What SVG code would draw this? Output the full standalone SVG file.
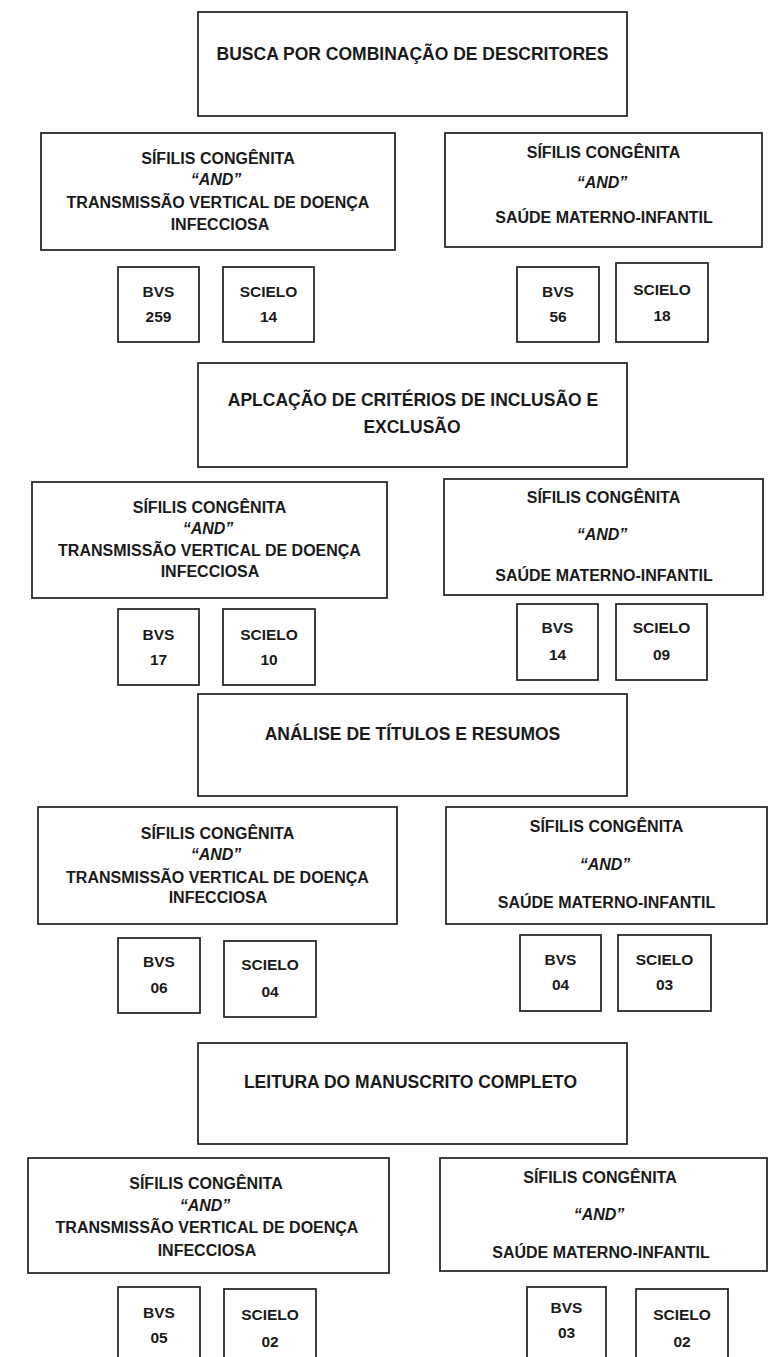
<svg xmlns="http://www.w3.org/2000/svg" width="780" height="1357" viewBox="0 0 780 1357">
<style>
rect{fill:#fff;stroke:#1e1e1e;stroke-width:1.7}
text{font-family:"Liberation Sans",Arial,sans-serif;font-weight:bold;fill:#1a1a1a;text-anchor:middle}
.h{font-size:17.5px}
.s{font-size:16px}
.i{font-style:italic}
.n{font-size:15.5px}
</style>
<rect x="0" y="0" width="780" height="1357" style="fill:#fff;stroke:none"/>
<g id="connectors"/>

<!-- Row 1 -->
<g id="h1"><rect x="198" y="12" width="429" height="104"/>
<text class="h" x="412.5" y="60">BUSCA POR COMBINAÇÃO DE DESCRITORES</text></g>
<g id="r1l"><rect x="41" y="133" width="354" height="117"/>
<text class="s" x="218" y="164">SÍFILIS CONGÊNITA</text>
<text class="s i" x="216" y="185">“AND”</text>
<text class="s" x="218" y="207.5">TRANSMISSÃO VERTICAL DE DOENÇA</text>
<text class="s" x="220" y="229.5">INFECCIOSA</text></g>
<g id="r1r"><rect x="445" y="133" width="317" height="114"/>
<text class="s" x="603.5" y="158">SÍFILIS CONGÊNITA</text>
<text class="s i" x="602" y="188">“AND”</text>
<text class="s" x="604" y="223">SAÚDE MATERNO-INFANTIL</text></g>
<g id="r1l_bvs"><rect x="118" y="267" width="81" height="75"/>
<text class="n" x="158.5" y="297">BVS</text><text class="n" x="158.5" y="322">259</text></g>
<g id="r1l_sci"><rect x="223" y="267" width="91" height="75"/>
<text class="n" x="268.5" y="297">SCIELO</text><text class="n" x="268.5" y="322">14</text></g>
<g id="r1r_bvs"><rect x="517" y="267" width="82" height="75"/>
<text class="n" x="558" y="297">BVS</text><text class="n" x="558" y="322">56</text></g>
<g id="r1r_sci"><rect x="616" y="263" width="92" height="79"/>
<text class="n" x="662" y="295">SCIELO</text><text class="n" x="662" y="321">18</text></g>

<!-- Row 2 -->
<g id="h2"><rect x="198" y="363" width="429" height="104"/>
<text class="h" x="413" y="406">APLCAÇÃO DE CRITÉRIOS DE INCLUSÃO E</text>
<text class="h" x="412" y="433">EXCLUSÃO</text></g>
<g id="r2l"><rect x="32" y="482" width="355" height="116"/>
<text class="s" x="209.5" y="513">SÍFILIS CONGÊNITA</text>
<text class="s i" x="208" y="534">“AND”</text>
<text class="s" x="209.5" y="556">TRANSMISSÃO VERTICAL DE DOENÇA</text>
<text class="s" x="210" y="577">INFECCIOSA</text></g>
<g id="r2r"><rect x="444" y="479" width="319" height="116"/>
<text class="s" x="603.5" y="503">SÍFILIS CONGÊNITA</text>
<text class="s i" x="602" y="540">“AND”</text>
<text class="s" x="604" y="581">SAÚDE MATERNO-INFANTIL</text></g>
<g id="r2l_bvs"><rect x="118" y="609" width="81" height="76"/>
<text class="n" x="158.5" y="640">BVS</text><text class="n" x="158.5" y="665">17</text></g>
<g id="r2l_sci"><rect x="223" y="609" width="92" height="76"/>
<text class="n" x="269" y="640">SCIELO</text><text class="n" x="269" y="665">10</text></g>
<g id="r2r_bvs"><rect x="517" y="604" width="81" height="76"/>
<text class="n" x="557.5" y="633">BVS</text><text class="n" x="557.5" y="660">14</text></g>
<g id="r2r_sci"><rect x="616" y="604" width="91" height="76"/>
<text class="n" x="661.5" y="633">SCIELO</text><text class="n" x="661.5" y="660">09</text></g>

<!-- Row 3 -->
<g id="h3"><rect x="198" y="694" width="429" height="102"/>
<text class="h" x="412.5" y="740">ANÁLISE DE TÍTULOS E RESUMOS</text></g>
<g id="r3l"><rect x="38" y="807" width="359" height="117"/>
<text class="s" x="217.5" y="839">SÍFILIS CONGÊNITA</text>
<text class="s i" x="216" y="860">“AND”</text>
<text class="s" x="217.5" y="883">TRANSMISSÃO VERTICAL DE DOENÇA</text>
<text class="s" x="218" y="903">INFECCIOSA</text></g>
<g id="r3r"><rect x="446" y="807" width="321" height="117"/>
<text class="s" x="606.5" y="832">SÍFILIS CONGÊNITA</text>
<text class="s i" x="605" y="870">“AND”</text>
<text class="s" x="606.5" y="908">SAÚDE MATERNO-INFANTIL</text></g>
<g id="r3l_bvs"><rect x="118" y="938" width="82" height="75"/>
<text class="n" x="159" y="967">BVS</text><text class="n" x="159" y="993">06</text></g>
<g id="r3l_sci"><rect x="224" y="941" width="92" height="76"/>
<text class="n" x="270" y="970">SCIELO</text><text class="n" x="270" y="997">04</text></g>
<g id="r3r_bvs"><rect x="520" y="935" width="81" height="76"/>
<text class="n" x="560.5" y="965">BVS</text><text class="n" x="560.5" y="990">04</text></g>
<g id="r3r_sci"><rect x="618" y="935" width="93" height="76"/>
<text class="n" x="664.5" y="965">SCIELO</text><text class="n" x="664.5" y="990">03</text></g>

<!-- Row 4 -->
<g id="h4"><rect x="198" y="1043" width="429" height="101"/>
<text class="h" x="410.5" y="1088">LEITURA DO MANUSCRITO COMPLETO</text></g>
<g id="r4l"><rect x="28" y="1158" width="361" height="115"/>
<text class="s" x="206" y="1189">SÍFILIS CONGÊNITA</text>
<text class="s i" x="205" y="1211">“AND”</text>
<text class="s" x="207" y="1233">TRANSMISSÃO VERTICAL DE DOENÇA</text>
<text class="s" x="207" y="1256">INFECCIOSA</text></g>
<g id="r4r"><rect x="440" y="1158" width="327" height="113"/>
<text class="s" x="600" y="1183">SÍFILIS CONGÊNITA</text>
<text class="s i" x="599" y="1220">“AND”</text>
<text class="s" x="601" y="1258">SAÚDE MATERNO-INFANTIL</text></g>
<g id="r4l_bvs"><rect x="118" y="1287" width="82" height="90"/>
<text class="n" x="159" y="1318">BVS</text><text class="n" x="159" y="1343">05</text></g>
<g id="r4l_sci"><rect x="224" y="1289" width="92" height="90"/>
<text class="n" x="270" y="1320">SCIELO</text><text class="n" x="270" y="1347">02</text></g>
<g id="r4r_bvs"><rect x="527" y="1287" width="79" height="90"/>
<text class="n" x="566.5" y="1313">BVS</text><text class="n" x="566.5" y="1338">03</text></g>
<g id="r4r_sci"><rect x="636" y="1289" width="92" height="90"/>
<text class="n" x="682" y="1320">SCIELO</text><text class="n" x="682" y="1347">02</text></g>
</svg>
